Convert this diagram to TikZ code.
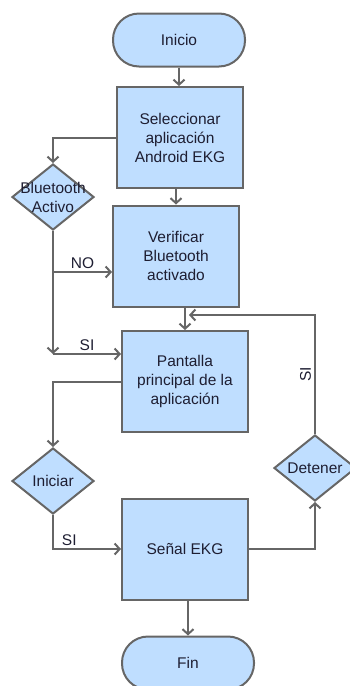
\documentclass[tikz,border=0pt]{standalone}
\usepackage{fontspec}
\setmainfont{Liberation Sans}
\usetikzlibrary{shapes.geometric,arrows.meta}
\definecolor{boxfill}{RGB}{191,222,255}
\definecolor{boxline}{RGB}{102,102,102}
\definecolor{boxtext}{RGB}{30,30,50}
\begin{document}
\begin{tikzpicture}[x=1pt,y=-1pt,
				every node/.style={font=\fontsize{15.5}{19}\selectfont,text=boxtext},
				base/.style={draw=boxline,fill=boxfill,line width=2pt,inner sep=0pt,align=center},
				proc/.style={base,rectangle,minimum width=126pt,minimum height=101pt},
				term/.style={base,rectangle,rounded corners=26pt,minimum width=132pt,minimum height=53pt},
				deci/.style={base,diamond,minimum width=82pt,minimum height=66pt,
					label={[align=center,inner sep=0pt]center:#1}},
				arr/.style={draw=boxline,line width=2pt,-{Straight Barb[length=5pt,width=11pt,line width=2pt]}}]
\useasboundingbox (0,0) rectangle (350,686);
\node[term] (inicio) at (179,40) {Inicio};
\node[proc] (selec) at (180,137.5) {Seleccionar\\aplicación\\Android EKG};
\node[deci={Bluetooth\\Activo}] (bt) at (53,197) {};
\node[proc] (verif) at (176,256) {Verificar\\Bluetooth\\activado};
\node[proc] (pant) at (185,381.5) {Pantalla\\principal de la\\aplicación};
\node[deci=Iniciar] (ini) at (53,481) {};
\node[deci=Detener] (det) at (315,468) {};
\node[proc] (senal) at (185,549) {Señal EKG};
\node[term] (fin) at (188,663) {Fin};
\coordinate (no) at (53,272);
\coordinate (si) at (53,354);
\coordinate (back) at (189,315);
\draw[arr] (inicio.south) -- (inicio.south |- selec.north);
\draw[arr] (selec.west) -| (bt.north);
\draw[arr] (verif.north |- selec.south) -- (verif.north);
\draw[arr] (bt.south) -- (si);
\draw[arr] (no) -- (no -| verif.west) node[midway,above,inner sep=2pt] (nolbl) {NO};
\draw[arr] (si) -- (si -| pant.west) node[midway,above,inner sep=2pt] (silbl) {SI};
\draw[arr] (pant.north |- verif.south) -- (pant.north);
\draw[arr] (det.north) |- (back) node[pos=0.25,rotate=90,anchor=south,inner sep=3pt] (detlbl) {SI};
\draw[arr] (pant.west) -| (ini.north);
\draw[arr] (ini.south) |- (senal.west) node[pos=0.62,above,inner sep=2pt] (inilbl) {SI};
\draw[arr] (senal.east) -| (det.south);
\draw[arr] (fin.north |- senal.south) -- (fin.north);
\end{tikzpicture}
\end{document}
